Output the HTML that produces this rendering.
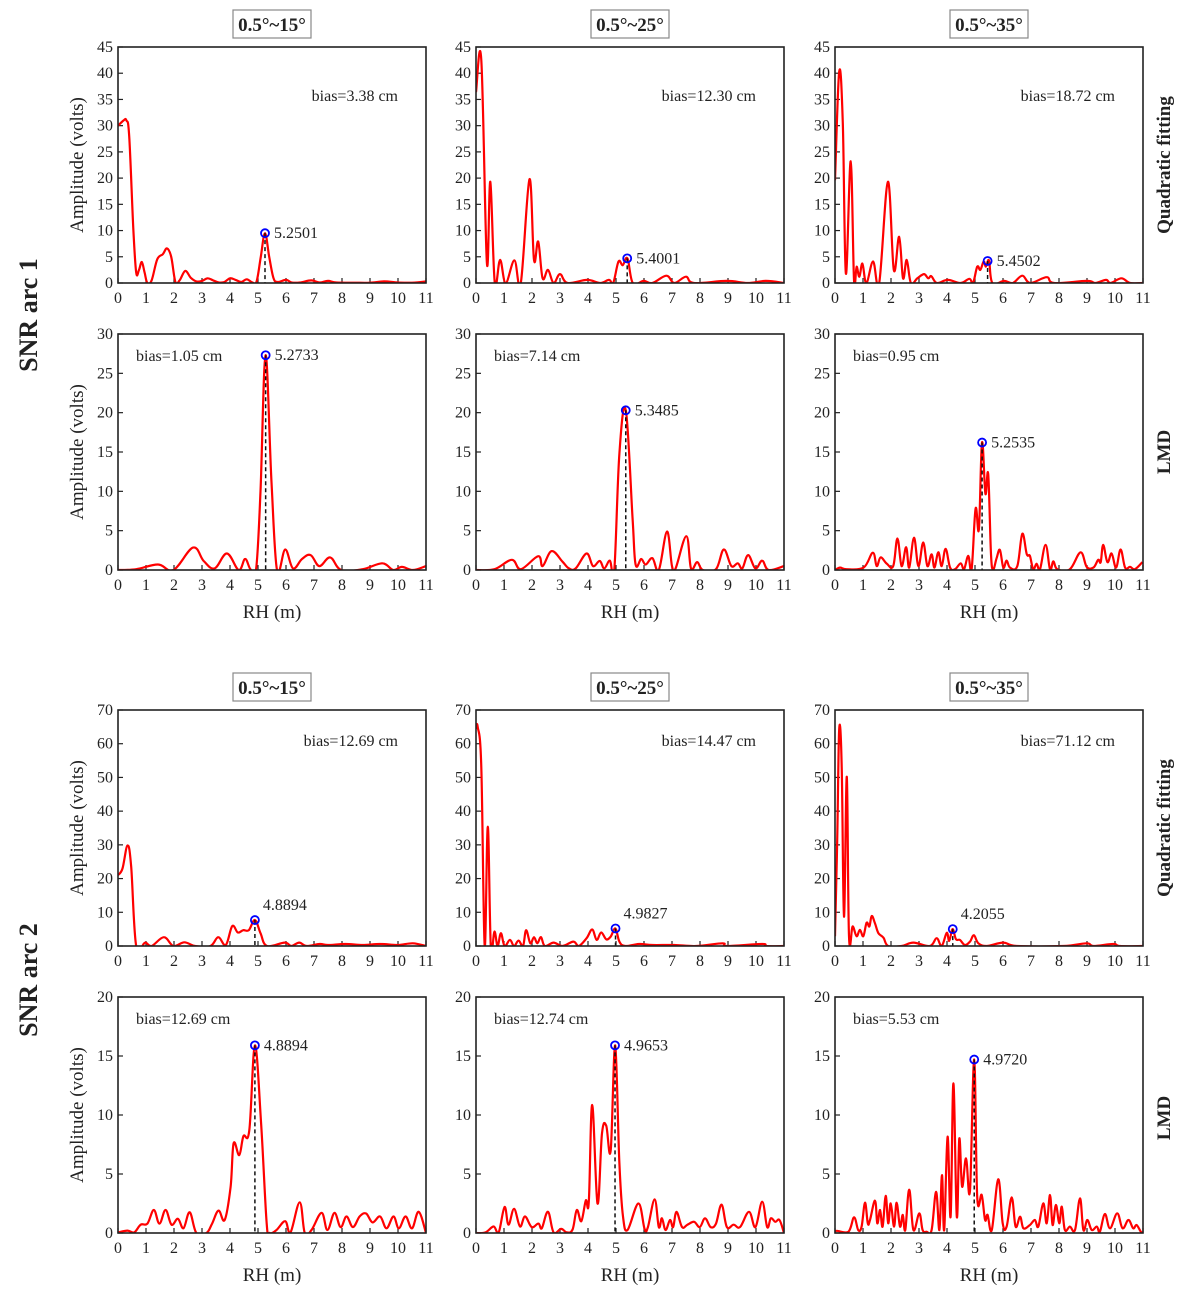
<!DOCTYPE html>
<html><head><meta charset="utf-8">
<style>
body{margin:0;background:#fff;}
svg text{font-family:"Liberation Serif",serif;}
</style></head>
<body>
<svg id="fig" width="1180" height="1293" viewBox="0 0 1180 1293" xmlns="http://www.w3.org/2000/svg">
<g id="static" fill="#222">
<text transform="translate(37,315) rotate(-90)" text-anchor="middle" font-size="26" font-weight="bold">SNR arc 1</text>
<text transform="translate(37,980) rotate(-90)" text-anchor="middle" font-size="26" font-weight="bold">SNR arc 2</text>
<text transform="translate(1170,165) rotate(-90)" text-anchor="middle" font-size="19" font-weight="bold">Quadratic fitting</text>
<text transform="translate(1170,452) rotate(-90)" text-anchor="middle" font-size="19" font-weight="bold">LMD</text>
<text transform="translate(1170,828) rotate(-90)" text-anchor="middle" font-size="19" font-weight="bold">Quadratic fitting</text>
<text transform="translate(1170,1118) rotate(-90)" text-anchor="middle" font-size="19" font-weight="bold">LMD</text>
</g>
</svg>
<script>
// Data arrays (x in metres RH, y amplitude in volts)
const xTicks=[0,1,2,3,4,5,6,7,8,9,10,11];
const titles=["0.5°~15°","0.5°~25°","0.5°~35°"];
const p1x=[0,0.2,0.3,0.4,0.55,0.65,0.75,0.85,0.95,1.05,1.2,1.4,1.6,1.75,1.9,2.05,2.2,2.4,2.6,2.8,3.0,3.2,3.4,3.6,3.8,4.0,4.2,4.4,4.6,4.8,4.95,5.1,5.25,5.4,5.55,5.7,6.0,6.2,6.5,6.9,7.2,7.5,7.8,8.5,9.0,9.5,10,10.5,11];
const p1y=[30,31,31,28,10,2,2.5,4,2,0,0.5,4.5,5.5,6.6,5,0.2,0.5,2.3,1,0.3,0.4,0.9,0.5,0.1,0.2,0.9,0.6,0.2,0.7,0.1,0.3,5,9.5,5,1,0.2,0.6,0.1,0.1,0.5,0.1,0.4,0.1,0.05,0.05,0.3,0.1,0.05,0.3];
const p2x=[0,0.19,0.39,0.51,0.67,0.86,1.06,1.37,1.6,1.91,2.07,2.22,2.38,2.57,2.77,3.0,3.27,3.97,4.43,4.75,4.9,5.09,5.24,5.41,5.6,5.99,6.3,6.8,7.08,7.5,7.78,8.95,9.7,10.35,11];
const p2y=[36.4,42.5,3.8,19.3,0,4.4,0,4.3,0,19.8,4.4,7.9,0.9,2.5,0,1.7,0,0.6,0,0.6,0,4.1,3.4,4.7,0,0.4,0,1.4,0,1.2,0,0.4,0,0.4,0];
const p3x=[0,0.15,0.28,0.39,0.56,0.68,0.77,0.87,0.98,1.12,1.36,1.58,1.89,2.1,2.29,2.43,2.56,2.71,2.94,3.18,3.33,3.44,3.64,4.03,4.49,4.8,4.93,5.08,5.19,5.31,5.39,5.5,5.62,6.04,6.35,6.69,6.97,7.56,7.82,8.99,9.3,9.68,9.84,10.23,10.54,11];
const p3y=[19.6,40.3,30.5,1.8,23.2,0.6,3.1,1.2,3.7,0,4.1,0,19.3,2.5,8.8,0.9,4.4,0,0.9,1.7,0.9,1.3,0,0.6,0,0.8,0,3.1,2.5,4.1,3.1,4.3,0,0.4,0,1.4,0,1.1,0,0.4,0,0.6,0,0.9,0,0];
const p4x=[0,0.65,1.43,1.98,2.68,3.06,3.45,3.89,4.31,4.54,4.73,4.93,5.09,5.27,5.48,5.68,5.97,6.25,6.57,6.88,7.19,7.58,7.97,8.74,9.44,9.83,10.14,10.53,11];
const p4y=[0,0.1,0.7,0,2.85,1.15,0.2,2.1,0,1.4,0.1,0,10,27.3,11.4,0,2.6,0.2,1.4,1.9,0.5,1.6,0,0.1,0.85,0,0.4,0,0.5];
const p5x=[0,0.66,1.28,1.6,2.22,2.38,2.7,3.09,3.32,3.56,3.95,4.18,4.42,4.58,4.78,4.94,5.12,5.35,5.59,5.7,5.9,6.06,6.3,6.53,6.82,7.0,7.13,7.51,7.68,7.9,8.1,8.57,8.85,9.12,9.35,9.51,9.72,9.98,10.22,10.45,11];
const p5y=[0,0.1,1.3,0.1,1.75,0.5,2.4,1.05,0.2,0.2,2.1,0.5,1.15,0.2,1.2,0,14.8,20.3,6.7,0.7,1.4,0.7,1.5,0,4.9,0.5,0.2,4.3,0.2,1.0,0,0.1,2.6,0.5,0.85,0.2,1.9,0.2,1.2,0,0.5];
const p6x=[0,0.18,0.41,1.02,1.35,1.49,1.63,1.85,2.08,2.23,2.38,2.54,2.65,2.82,2.98,3.15,3.3,3.45,3.55,3.69,3.81,3.95,4.11,4.29,4.49,4.61,4.76,4.88,5.02,5.14,5.25,5.37,5.47,5.57,5.65,5.77,5.89,6.01,6.13,6.25,6.51,6.69,6.85,6.96,7.08,7.2,7.32,7.52,7.68,7.8,7.94,8.39,8.77,8.99,9.23,9.4,9.49,9.58,9.73,9.88,10.04,10.2,10.36,10.54,10.71,10.98];
const p6y=[0,0.3,0.1,0.3,2.2,0.5,1.6,0.8,0.5,4.0,0.5,2.9,0.3,4.1,0.5,3.5,0.5,2.0,0.3,2.25,0.5,2.7,0.3,0.1,0.85,0.1,1.8,0.1,7.8,5.2,16.2,9.7,12.2,2.0,0.1,1.5,2.55,0.3,1.2,0.3,0.5,4.6,2.0,1.8,0.1,0.8,0.1,3.2,0.1,1.1,0.1,0.1,2.25,0.4,0.3,1.3,1.0,3.2,1.0,2.1,0.3,2.6,0.3,0.4,0.1,1.0];
const p7x=[0,0.16,0.34,0.47,0.65,0.97,1.2,1.64,1.98,2.37,2.75,3.3,3.58,3.85,4.08,4.28,4.47,4.67,4.89,5.09,5.32,5.95,6.19,6.47,6.74,7.2,7.5,8.12,8.74,9.36,9.99,10.53,11];
const p7y=[21,23,29.8,23.5,0,1,0,2.6,0,1.1,0,0,2.6,0.3,5.9,4,4.7,4.7,7.7,3.8,0,1,0,1,0,0.6,0.3,0.6,0.3,0.6,0.3,0.8,0];
const p8x=[0,0.06,0.19,0.31,0.42,0.53,0.66,0.77,0.89,1.02,1.21,1.36,1.52,1.68,1.79,1.94,2.07,2.19,2.32,2.46,2.77,3.09,3.48,3.67,3.95,4.15,4.31,4.47,4.65,4.81,4.98,5.12,5.33,5.83,6.3,7.08,7.87,8.81,8.96,10.22,10.37,11];
const p8y=[64.6,65,53,0,35.4,0,4.3,0,3.8,0,1.8,0,1.6,0,4.7,0.8,2.6,0.8,2.6,0,1,0,1.3,0,2.3,4.9,1.8,4,2,2.8,5.2,1.3,0,0.6,0.3,0.3,0,0.8,0,0.6,0,0];
const p9x=[0,0.08,0.15,0.24,0.32,0.42,0.5,0.63,0.77,0.89,1.01,1.13,1.23,1.31,1.43,1.55,1.73,1.9,2.38,2.8,3.39,3.63,3.81,3.99,4.08,4.2,4.32,4.46,4.64,4.82,4.96,5.12,5.42,6.01,6.49,8.15,8.99,9.23,9.94,10.18,11];
const p9y=[2.9,31.4,64.3,53.2,8.7,50.2,2.9,5.8,2.9,4.8,2.9,6.9,5.8,8.9,6.7,3.8,2.5,0,0,1,0,2.3,0,3.9,1.5,5,2.0,1.8,0.3,1.3,3.2,0.8,0,1,0,0,0.8,0,0.6,0,0];
const p10x=[0,0.34,0.58,0.81,1.05,1.28,1.48,1.7,1.91,2.14,2.34,2.56,2.8,3.16,3.36,3.59,3.81,4.02,4.13,4.33,4.48,4.69,4.89,5.11,5.31,5.42,5.66,5.97,6.16,6.49,6.67,6.91,7.27,7.48,7.73,7.95,8.16,8.39,8.63,8.86,9.09,9.36,9.59,9.84,10.03,10.27,10.5,10.74,11];
const p10y=[0.05,0.2,0.05,0.7,0.8,1.95,0.8,1.95,0.7,1.2,0.4,1.75,0,0,0.8,1.9,1.1,3.9,7.6,6.6,8.2,8.7,15.9,9.3,0.8,0,0.25,1.0,0.05,2.6,0,0.25,1.7,0.25,1.7,0.5,1.4,0.5,1.4,1.65,0.9,1.4,0.4,1.4,0.4,1.4,0.4,1.8,0];
const p11x=[0,0.34,0.63,0.81,1.02,1.16,1.36,1.57,1.75,1.99,2.23,2.35,2.57,2.77,3.04,3.24,3.45,3.6,3.76,3.92,4.03,4.15,4.34,4.5,4.65,4.81,4.97,5.12,5.25,5.41,5.8,6.02,6.14,6.38,6.53,6.64,6.77,6.93,7.04,7.16,7.36,7.55,7.79,7.99,8.18,8.38,8.57,8.77,8.96,9.2,9.43,9.75,9.98,10.22,10.4,10.53,10.69,10.84,11];
const p11y=[0,0.05,0.55,0.05,2.2,0.7,2.05,0.55,1.4,0.5,0.8,0.4,1.8,0.05,0.35,0.05,0.3,1.95,1.0,2.75,2.65,10.85,2.5,8.45,9.1,7.0,15.9,5.9,1.4,0.25,2.5,0.35,0.5,2.85,0.5,1.25,0.25,1.1,0.5,1.8,0.5,0.7,0.95,0.5,1.25,0.5,0.8,2.4,0.5,0.7,0.5,1.8,0.5,2.65,0.5,1.25,0.95,1.1,0];
const p12x=[0,0.06,0.48,0.68,0.83,0.95,1.07,1.17,1.25,1.43,1.51,1.61,1.7,1.81,1.9,1.99,2.11,2.2,2.32,2.42,2.51,2.65,2.8,3.01,3.13,3.27,3.45,3.61,3.73,3.82,3.9,4.02,4.13,4.23,4.35,4.44,4.54,4.68,4.82,4.97,5.08,5.24,5.36,5.45,5.6,5.83,5.99,6.13,6.31,6.45,6.61,6.73,6.96,7.14,7.26,7.44,7.56,7.68,7.77,7.89,8.01,8.1,8.21,8.39,8.57,8.75,8.87,9.01,9.17,9.35,9.46,9.64,9.82,10.08,10.27,10.48,10.65,10.77,10.92,11];
const p12y=[0.03,0.19,0.11,1.33,0.25,0.54,2.57,0.82,1.1,2.74,0.82,1.95,0.54,3.14,0.82,2.51,0.54,2.57,0.54,1.53,0.25,3.67,0.25,1.67,0.25,0.11,0.25,3.48,0.25,4.91,0.25,8.16,1.38,12.69,1.38,8.0,3.93,6.32,3.6,14.7,3.08,3.22,1.1,1.53,0.25,4.55,0.82,0.54,3.02,0.54,1.38,0.4,0.68,1.1,0.54,2.51,0.82,3.22,0.68,2.37,0.82,2.23,0.25,0.54,0.25,2.94,0.25,1.1,0.25,0.54,0.11,1.61,0.4,1.67,0.4,1.1,0.4,0.68,0.11,0.03];
const peakX=[5.2501,5.4001,5.4502,5.2733,5.3485,5.2535,4.8894,4.9827,4.2055,4.8894,4.9653,4.9720];
const peakY=[9.5,4.7,4.2,27.3,20.3,16.2,7.7,5.2,5.0,15.9,15.9,14.7];
const peakLabels=["5.2501","5.4001","5.4502","5.2733","5.3485","5.2535","4.8894","4.9827","4.2055","4.8894","4.9653","4.9720"];
const biasLabels=["bias=3.38 cm","bias=12.30 cm","bias=18.72 cm","bias=1.05 cm","bias=7.14 cm","bias=0.95 cm","bias=12.69 cm","bias=14.47 cm","bias=71.12 cm","bias=12.69 cm","bias=12.74 cm","bias=5.53 cm"];
const yMaxes=[45,45,45,30,30,30,70,70,70,20,20,20];
const ySteps=[5,5,5,5,5,5,10,10,10,5,5,5];
const seriesX=[p1x,p2x,p3x,p4x,p5x,p6x,p7x,p8x,p9x,p10x,p11x,p12x];
const seriesY=[p1y,p2y,p3y,p4y,p5y,p6y,p7y,p8y,p9y,p10y,p11y,p12y];

const NS="http://www.w3.org/2000/svg";
const svg=document.getElementById('fig');
const colL=[118,476,835], W=308, H=236, rowT=[47,334,710,997];
function mk(tag,attrs,parent){const e=document.createElementNS(NS,tag);for(const k in attrs)e.setAttribute(k,attrs[k]);(parent||svg).appendChild(e);return e;}
function smoothPath(pts){
  let d="M"+pts[0][0].toFixed(1)+","+pts[0][1].toFixed(1);
  for(let i=0;i<pts.length-1;i++){
    const p0=pts[i-1]||pts[i],p1=pts[i],p2=pts[i+1],p3=pts[i+2]||p2;
    const t=0.18;
    const c1y=p1[1]+(p2[1]-p0[1])*t, c2y=p2[1]-(p3[1]-p1[1])*t;
    const c1x=p1[0]+(p2[0]-p0[0])*t, c2x=p2[0]-(p3[0]-p1[0])*t;
    d+=" C"+c1x.toFixed(1)+","+c1y.toFixed(1)+" "+c2x.toFixed(1)+","+c2y.toFixed(1)+" "+p2[0].toFixed(1)+","+p2[1].toFixed(1);
  }
  return d;
}
for(let i=0;i<12;i++){
  const r=Math.floor(i/3), c=i%3;
  const L=colL[c], T=rowT[r], B=T+H, ymax=yMaxes[i];
  const sx=v=>L+v/11*W, sy=v=>B-v/ymax*H;
  const g=mk('g',{});
  
  
  const clipId='clip'+i;
  const cp=mk('clipPath',{id:clipId},g); mk('rect',{x:L,y:T,width:W,height:H},cp);
  xTicks.forEach(t=>{
    const x=sx(t);
    const tk=mk('line',{x1:x,x2:x,y1:B,y2:B-5,stroke:'#222','stroke-width':1.2},g);
    
    
    const tl=mk('text',{x:x,y:B+20,'text-anchor':'middle','font-size':16,fill:'#222'},g);
    
    
    tl.textContent=t;
  });
  for(let v=0;v<=ymax;v+=ySteps[i]){
    const y=sy(v);
    const tk=mk('line',{x1:L,x2:L+5,y1:y,y2:y,stroke:'#222','stroke-width':1.2},g);
    
    
    const tl=mk('text',{x:L-5,y:y+5,'text-anchor':'end','font-size':16,fill:'#222'},g);
    
    
    tl.textContent=v;
  }
  const pts=seriesX[i].map((x,k)=>[sx(x),sy(seriesY[i][k])]);
  const path=mk('path',{d:smoothPath(pts),fill:'none',stroke:'#ff0000','stroke-width':2.2,'stroke-linejoin':'round','clip-path':'url(#'+clipId+')'},g);
  
  
  const px=sx(peakX[i]), py=sy(peakY[i]);
  const dl=mk('line',{x1:px,x2:px,y1:py,y2:B,stroke:'#111','stroke-width':1.5,'stroke-dasharray':'4,3'},g);
  
  
  const mc=mk('circle',{cx:px,cy:py,r:4,fill:'none',stroke:'#0000ff','stroke-width':1.8},g);
  
  
  const pl=mk('text',{'font-size':16,fill:'#222'},g);
  if(r===2){pl.setAttribute('x',px+8);pl.setAttribute('y',py-10);}
  else{pl.setAttribute('x',px+9);pl.setAttribute('y',py+5);}
  
  
  pl.textContent=peakLabels[i];
  const bt=mk('text',{'font-size':16,fill:'#222'},g);
  if(r%2===0){bt.setAttribute('x',L+W-28);bt.setAttribute('text-anchor','end');bt.setAttribute('y',T+54);}
  else{bt.setAttribute('x',L+18);bt.setAttribute('y',T+27);}
  if(r===2) bt.setAttribute('y',T+36);
  
  
  bt.textContent=biasLabels[i];
  const fr=mk('rect',{x:L,y:T,width:W,height:H,fill:'none',stroke:'#222','stroke-width':1.6},g);
  
  
  if(c===0){
    const yt=mk('text',{transform:'translate('+(L-35)+','+(T+H/2)+') rotate(-90)','text-anchor':'middle','font-size':19,fill:'#222'},g);
    
    
    yt.textContent='Amplitude (volts)';
  }
  if(r%2===1){
    const xt=mk('text',{x:L+W/2,y:B+48,'text-anchor':'middle','font-size':19,fill:'#222'},g);
    
    
    xt.textContent='RH (m)';
  }
  if(r%2===0){
    const cx=L+W/2;
    const bx=mk('rect',{x:cx-39,y:T-37,width:78,height:28,fill:'#fff',stroke:'#888','stroke-width':1.2},g);
    
    
    const tt=mk('text',{x:cx,y:T-16,'text-anchor':'middle','font-size':19,'font-weight':'bold',fill:'#222'},g);
    
    
    tt.textContent=titles[c];
  }
}
</script>
</body></html>
